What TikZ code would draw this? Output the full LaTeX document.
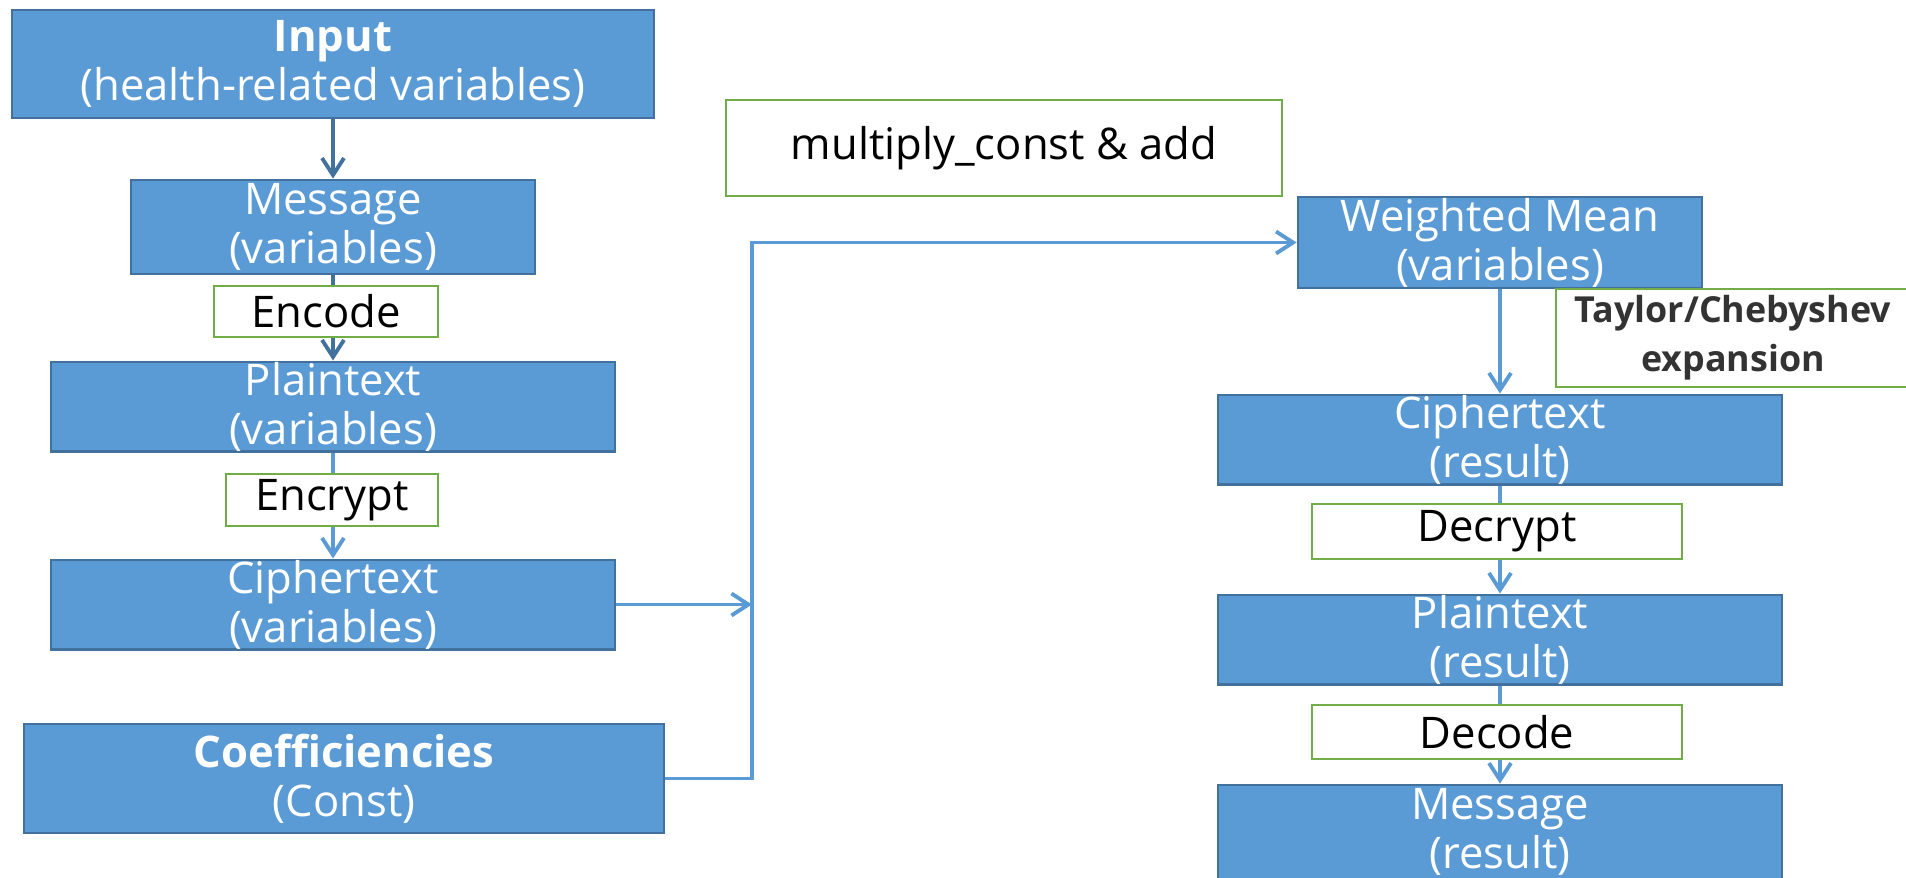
\documentclass[tikz,border=0pt]{standalone}
\usepackage{fontspec}
\setmainfont{Open Sans}
\usetikzlibrary{arrows.meta}
\definecolor{boxblue}{HTML}{5B9BD5}
\definecolor{boxedge}{HTML}{41719C}
\definecolor{opgreen}{HTML}{70AD47}

\begin{document}
\begin{tikzpicture}[>={Straight Barb[length=1.7mm,width=2.2mm]}, line width=1.1pt,
    blk/.style={draw=boxedge, fill=boxblue, line width=0.8pt, text=white, inner sep=0pt,
      align=center, font=\fontsize{12.4pt}{14pt}\selectfont},
    op/.style={draw=opgreen, fill=white, line width=0.8pt, inner sep=0pt,
      align=center, font=\fontsize{12.4pt}{14pt}\selectfont},
    flow/.style={->, draw=boxblue},
    flowdk/.style={->, draw=boxedge}]
      \useasboundingbox (0,0) rectangle (19.06,-8.77);

      % left column
      \node [blk, minimum width=6.42cm, minimum height=1.08cm, name=inp] at (3.33,-0.64)
      {\textbf{Input}\\(health-related variables)};
      \node [blk, minimum width=4.04cm, minimum height=0.94cm, name=msgA] at (3.33,-2.27)
      {Message\\(variables)};
      \node [blk, minimum width=5.64cm, minimum height=0.89cm, name=plainA] at (3.33,-4.065)
      {Plaintext\\(variables)};
      \node [blk, minimum width=5.64cm, minimum height=0.89cm, name=ciphA] at (3.33,-6.045)
      {Ciphertext\\(variables)};
      \node [blk, minimum width=6.40cm, minimum height=1.09cm, name=coef] at (3.44,-7.785)
      {\textbf{Coefficiencies}\\(Const)};

      % right column
      \node [op, minimum width=5.56cm, minimum height=0.96cm, name=mult] at (10.04,-1.48)
      {multiply\_const \& add};
      \node [blk, minimum width=4.04cm, minimum height=0.91cm, name=wm] at (15.00,-2.425)
      {Weighted Mean\\(variables)};
      \node [op, minimum width=3.54cm, minimum height=0.98cm, text=black!80, name=taylor,
        font=\fontsize{10.2pt}{14pt}\selectfont\bfseries] at (17.33,-3.38)
      {Taylor/Chebyshev\\expansion};
      \node [blk, minimum width=5.64cm, minimum height=0.89cm, name=ciphB] at (15.00,-4.395)
      {Ciphertext\\(result)};
      \node [blk, minimum width=5.64cm, minimum height=0.87cm, name=plainB] at (15.00,-6.395)
      {Plaintext\\(result)};
      \node [blk, minimum width=5.64cm, minimum height=0.94cm, name=msgB] at (15.00,-8.32)
      {Message\\(result)};

      \coordinate (bus) at (7.52,-2.425);

      \draw [flowdk] (inp) -- (msgA);
      \draw [flowdk] (msgA) -- (plainA);
      \draw [flow] (plainA) -- (ciphA);
      \draw [flow] (ciphA) -- (ciphA -| bus);
      \draw [flow] (coef) -| (bus) -- (wm);
      \draw [flow] (wm) -- (ciphB);
      \draw [flow] (ciphB) -- (plainB);
      \draw [flow] (plainB) -- (msgB);

      % operations, on top of the arrows
      \node [op, minimum width=2.24cm, minimum height=0.51cm, name=enc] at (3.26,-3.115) {Encode};
      \node [op, minimum width=2.12cm, minimum height=0.52cm, name=encr] at (3.32,-5.00) {Encrypt};
      \node [op, minimum width=3.70cm, minimum height=0.55cm, name=decr] at (14.97,-5.315) {Decrypt};
      \node [op, minimum width=3.70cm, minimum height=0.54cm, name=deco] at (14.97,-7.32) {Decode};
    \end{tikzpicture}
\end{document}
